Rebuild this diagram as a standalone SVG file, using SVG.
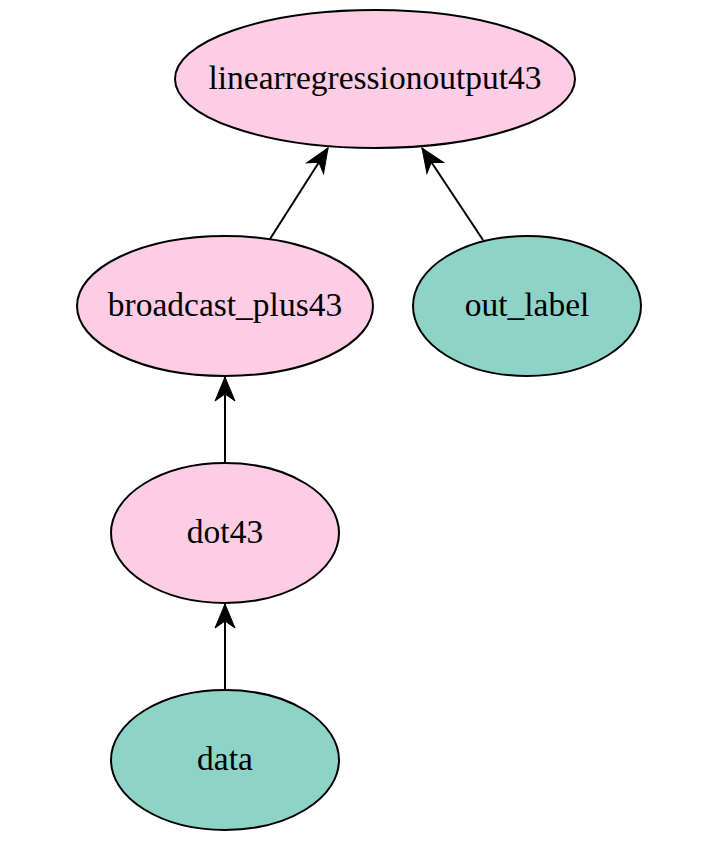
<svg xmlns="http://www.w3.org/2000/svg" width="722" height="841" viewBox="0 0 722 841">
  <style>
    .node ellipse { stroke: #000; stroke-width: 2; }
    .op ellipse { fill: #fccde5; }
    .var ellipse { fill: #8dd3c7; }
    .node text { font-family: "Liberation Serif", "Times New Roman", serif; font-size: 33.5px; fill: #000; text-anchor: middle; }
    .edge { stroke: #000; stroke-width: 2; fill: none; marker-end: url(#vee); }
  </style>
  <defs>
    <marker id="vee" markerUnits="userSpaceOnUse" viewBox="-26 -12 28 24" markerWidth="28" markerHeight="24" refX="0" refY="0" orient="auto">
      <path d="M0,0 L-24,-10 L-17,0 L-24,10 Z" fill="#000" stroke="#000" stroke-width="1"/>
    </marker>
  </defs>
  <rect width="722" height="841" fill="#fff"/>
  <g id="connectors">
    <line class="edge" x1="270" y1="239" x2="328" y2="148"/>
    <line class="edge" x1="483" y1="240" x2="422" y2="148"/>
    <line class="edge" x1="225" y1="463" x2="225" y2="377"/>
    <line class="edge" x1="225" y1="690" x2="225" y2="604"/>
  </g>
  <g id="linearregressionoutput43" class="node op">
    <ellipse cx="375" cy="79" rx="200" ry="69"/>
    <text x="375" y="89">linearregressionoutput43</text>
  </g>
  <g id="broadcast_plus43" class="node op">
    <ellipse cx="225" cy="306" rx="148" ry="70"/>
    <text x="225" y="316">broadcast_plus43</text>
  </g>
  <g id="out_label" class="node var">
    <ellipse cx="527" cy="306" rx="114" ry="70"/>
    <text x="527" y="316">out_label</text>
  </g>
  <g id="dot43" class="node op">
    <ellipse cx="225" cy="533" rx="114" ry="70"/>
    <text x="225" y="543">dot43</text>
  </g>
  <g id="data" class="node var">
    <ellipse cx="225" cy="760" rx="114" ry="70"/>
    <text x="225" y="770">data</text>
  </g>
</svg>
